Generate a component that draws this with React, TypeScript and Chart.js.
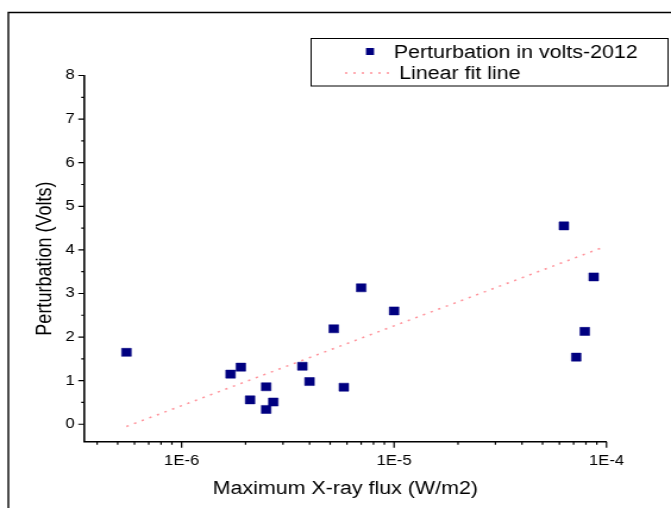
import React, { useEffect, useRef } from 'react';
import { Chart, registerables } from 'chart.js';

Chart.register(...registerables);

// ---- data ----
const fluxValues = [5.5e-7, 1.7e-6, 1.9e-6, 2.1e-6, 2.5e-6, 2.5e-6, 2.7e-6, 3.7e-6, 4.0e-6, 5.2e-6, 5.8e-6, 7.0e-6, 1.0e-5, 6.3e-5, 7.2e-5, 7.9e-5, 8.7e-5];
const perturbationValues = [1.65, 1.15, 1.31, 0.56, 0.86, 0.34, 0.51, 1.33, 0.98, 2.19, 0.85, 3.13, 2.6, 4.55, 1.54, 2.13, 3.38];
const fitFlux = [5.5e-7, 9.4e-5];
const fitValues = [-0.05, 4.04];
const xTickValues = [1e-6, 1e-5, 1e-4];
const xTickLabels = ['1E-6', '1E-5', '1E-4'];
const yTickValues = [0, 1, 2, 3, 4, 5, 6, 7, 8];
const minorMultipliers = [2, 3, 4, 5, 6, 7, 8, 9];
const decades = [-7, -6, -5];
const seriesLabel = 'Perturbation in volts-2012';
const fitLabel = 'Linear fit line';
const xTitle = 'Maximum X-ray flux (W/m2)';
const yTitle = 'Perturbation (Volts)';

const NAVY = '#000080';
const PINK = 'rgba(255,110,120,0.75)';
const FONT = "'Liberation Sans', Arial, sans-serif";

const W = 564; // internal drawing width (stretched horizontally to 671)
const H = 508;

const framePlugin = {
  id: 'frame',
  beforeDraw(chart: any) {
    const ctx = chart.ctx;
    ctx.save();
    ctx.fillStyle = '#fff';
    ctx.fillRect(0, 0, chart.width, chart.height);
    ctx.strokeStyle = '#000';
    ctx.lineWidth = 1.4;
    ctx.beginPath();
    ctx.moveTo(7, H + 5);
    ctx.lineTo(7, 12.5);
    ctx.lineTo(W + 5, 12.5);
    ctx.stroke();
    ctx.restore();
  },
};

const ticksPlugin = {
  id: 'manualTicks',
  afterDraw(chart: any) {
    const ctx = chart.ctx;
    const xs = chart.scales.x;
    const ys = chart.scales.y;
    ctx.save();
    ctx.strokeStyle = '#000';
    ctx.lineWidth = 1.3;
    ctx.beginPath();
    for (let v = 0; v <= 8; v += 0.5) {
      const py = ys.getPixelForValue(v);
      const len = Number.isInteger(v) ? 5 : 2.5;
      ctx.moveTo(ys.right, py);
      ctx.lineTo(ys.right - len, py);
    }
    ctx.lineWidth = 1.2;
    for (const d of decades) {
      for (const m of [1, ...minorMultipliers]) {
        const v = m * Math.pow(10, d);
        if (v < xs.min || v > xs.max * 1.0001) continue;
        const px = xs.getPixelForValue(v);
        const len = m === 1 ? 6 : 3;
        ctx.moveTo(px, xs.top);
        ctx.lineTo(px, xs.top + len);
      }
    }
    const lastPx = xs.getPixelForValue(1e-4);
    ctx.moveTo(lastPx, xs.top);
    ctx.lineTo(lastPx, xs.top + 6);
    ctx.stroke();
    ctx.restore();
  },
};

const legendPlugin = {
  id: 'boxLegend',
  afterDraw(chart: any) {
    const ctx = chart.ctx;
    const ds = chart.data.datasets;
    ctx.save();
    ctx.strokeStyle = '#000';
    ctx.lineWidth = 1;
    ctx.strokeRect(261.5, 38.5, 300, 47.5);
    // series marker
    ctx.fillStyle = NAVY;
    ctx.fillRect(311 - 3.4, 51.5 - 3.5, 6.8, 7);
    ctx.fillStyle = '#000';
    ctx.font = `18px ${FONT}`;
    ctx.textBaseline = 'alphabetic';
    ctx.textAlign = 'left';
    ctx.fillText(ds[0].label, 331, 57.5);
    // fit line sample
    ctx.strokeStyle = PINK;
    ctx.lineWidth = 1.5;
    ctx.setLineDash([2, 5]);
    ctx.beginPath();
    ctx.moveTo(290, 73);
    ctx.lineTo(328, 73);
    ctx.stroke();
    ctx.setLineDash([]);
    ctx.fillText(ds[1].label, 335.5, 79);
    ctx.restore();
  },
};

export default function App() {
  const canvasRef = useRef<HTMLCanvasElement | null>(null);

  useEffect(() => {
    const canvas = canvasRef.current;
    if (!canvas) return;
    const chart = new Chart(canvas, {
      type: 'scatter',
      data: {
        datasets: [
          {
            label: seriesLabel,
            data: fluxValues.map((x, i) => ({ x, y: perturbationValues[i] })),
            backgroundColor: NAVY,
            borderColor: NAVY,
            borderWidth: 0.5,
            pointStyle: 'rect',
            pointRadius: 5.7,
            order: 0,
          },
          {
            label: fitLabel,
            data: fitFlux.map((x, i) => ({ x, y: fitValues[i] })),
            showLine: true,
            borderColor: PINK,
            borderWidth: 1.5,
            borderDash: [2, 5],
            pointRadius: 0,
            fill: false,
            order: 1,
          },
        ],
      },
      options: {
        animation: false,
        responsive: false,
        devicePixelRatio: 1,
        events: [],
        layout: { padding: { left: 0, right: 54.2, top: 75.5, bottom: 0 } },
        plugins: {
          legend: { display: false },
          tooltip: { enabled: false },
        },
        scales: {
          x: {
            type: 'logarithmic',
            min: 3.48e-7,
            max: 1e-4,
            afterBuildTicks: (scale: any) => {
              scale.ticks = xTickValues.map((v) => ({ value: v }));
            },
            afterFit: (scale: any) => {
              scale.height = 66.3;
            },
            grid: { display: false, drawTicks: false },
            border: { display: true, color: '#000', width: 1.6 },
            ticks: {
              autoSkip: false,
              maxRotation: 0,
              padding: 11,
              color: '#000',
              font: { family: FONT, size: 14 },
              callback: (_v: any, i: number) => xTickLabels[i],
            },
            title: {
              display: true,
              text: xTitle,
              color: '#000',
              font: { family: FONT, size: 18 },
              padding: { top: 0, bottom: 8 },
            },
          },
          y: {
            type: 'linear',
            min: -0.4,
            max: 8,
            afterBuildTicks: (scale: any) => {
              scale.ticks = yTickValues.map((v) => ({ value: v }));
            },
            afterFit: (scale: any) => {
              scale.width = 70.8;
            },
            grid: { display: false, drawTicks: false },
            border: { display: true, color: '#000', width: 1.6 },
            ticks: {
              padding: 8,
              color: '#000',
              font: { family: FONT, size: 14 },
              callback: (v: any) => String(v),
            },
            title: {
              display: true,
              text: yTitle,
              color: '#000',
              font: { family: FONT, size: 18 },
              padding: { top: 27, bottom: 0 },
            },
          },
        },
      },
      plugins: [framePlugin, ticksPlugin, legendPlugin],
    } as any);
    return () => chart.destroy();
  }, []);

  return (
    <div style={{ position: 'fixed', left: 0, top: 0, width: 671, height: 508, overflow: 'hidden', background: '#fff' }}>
      <canvas
        ref={canvasRef}
        width={W}
        height={H}
        style={{ width: '671px', height: '508px', display: 'block' }}
      />
    </div>
  );
}
